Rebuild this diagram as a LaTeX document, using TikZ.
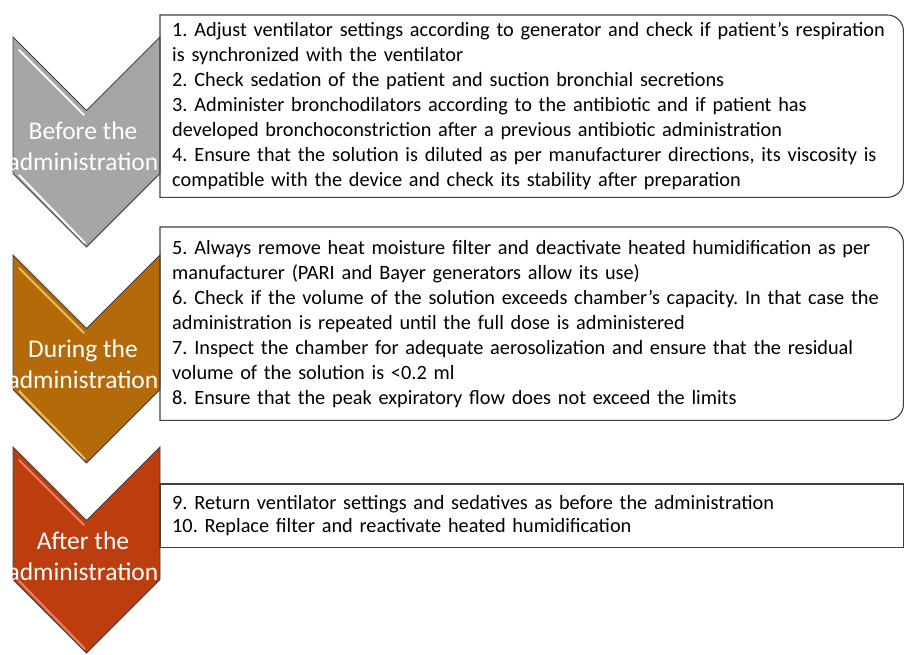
\documentclass[tikz,border=0pt]{standalone}
\usepackage{fontspec}
\setmainfont{Carlito}
\usepackage{tikz}
\usetikzlibrary{positioning}
\usepackage{xcolor}
\definecolor{phasegray}{RGB}{166,166,166}
\definecolor{phaseorange}{RGB}{180,106,8}
\definecolor{phasered}{RGB}{188,62,14}
\definecolor{hlgray}{RGB}{250,250,250}
\definecolor{hlorange}{RGB}{244,186,96}
\definecolor{hlred}{RGB}{240,128,90}
\frenchspacing

\begin{document}
\begin{tikzpicture}[
  x=1pt, y=-1pt,
  steps/.style={anchor=north west, inner xsep=12pt, inner ysep=0pt,
                align=left, text width=719pt, font=\fontsize{20.3}{25}\selectfont},
  phase/.style={text=white, align=center, font=\fontsize{25.5}{31}\selectfont},
  edge/.style={draw=black!75, line width=0.9pt, line join=miter}
]
\useasboundingbox (0,0) rectangle (904,655);
% chevrons: top, height, fill, highlight, name, label
\foreach \t/\h/\c/\hl/\n/\lab in {
    37/210/phasegray/hlgray/bef/{Before the\\administration},
    255/208/phaseorange/hlorange/dur/{During the\\administration},
    447/206/phasered/hlred/aft/{After the\\administration}} {
  \fill[\c] (13,\t) -- (86.5,\t+73.5) -- (160,\t) -- (160,\t+\h-73.5)
    -- (86.5,\t+\h) -- (13,\t+\h-73.5) -- cycle;
  \draw[\hl, line width=2pt, line cap=round] (19,\t+13) -- (84,\t+78);
  \draw[\hl, line width=2pt, line cap=round] (19,\t+\h-72) -- (85,\t+\h-4);
  \draw[edge] (13,\t) -- (86.5,\t+73.5) -- (160,\t) -- (160,\t+\h-73.5)
    -- (86.5,\t+\h) -- (13,\t+\h-73.5) -- cycle;
  \node[phase] (\n) at (83,\t+109) {\lab};
}
% step boxes
\node[steps, minimum height=182pt] (stepsA) at (160,15) {%
1. Adjust ventilator settings according to generator and check if patient’s respiration\\
is synchronized with the ventilator\\
2. Check sedation of the patient and suction bronchial secretions\\
3. Administer bronchodilators according to the antibiotic and if patient has\\
developed bronchoconstriction after a previous antibiotic administration\\
4. Ensure that the solution is diluted as per manufacturer directions, its viscosity is\\
compatible with the device and check its stability after preparation};
\node[steps, minimum height=193pt] (stepsB) at (160,227) {%
5. Always remove heat moisture filter and deactivate heated humidification as per\\
manufacturer (PARI and Bayer generators allow its use)\\
6. Check if the volume of the solution exceeds chamber’s capacity. In that case the\\
administration is repeated until the full dose is administered\\
7. Inspect the chamber for adequate aerosolization and ensure that the residual\\
volume of the solution is <0.2 ml\\
8. Ensure that the peak expiratory flow does not exceed the limits};
\node[steps, minimum height=63pt, font=\fontsize{20.3}{23}\selectfont] (stepsC) at (160,484) {%
9. Return ventilator settings and sedatives as before the administration\\
10. Replace filter and reactivate heated humidification};
\foreach \b in {stepsA,stepsB}
  \draw[edge, line width=1.1pt] (\b.north west) -- ([xshift=-16pt]\b.north east)
    arc[start angle=90, end angle=0, radius=16pt]
    -- ([yshift=16pt]\b.south east)
    arc[start angle=0, end angle=-90, radius=16pt]
    -- (\b.south west) -- cycle;
\draw[edge, line width=1.1pt] (stepsC.north west) rectangle (stepsC.south east);
\end{tikzpicture}
\end{document}
